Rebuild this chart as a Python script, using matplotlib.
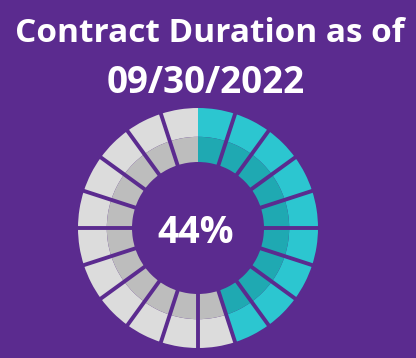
import numpy as np
import matplotlib
matplotlib.use("Agg")
import matplotlib.pyplot as plt

# Chart data
TITLE = "Contract Duration as of"
DATE = "09/30/2022"
PERCENT = 44
N_SEGMENTS = 20
FILLED = 9  # segments shown in teal

BG = "#5b2b8f"
TEAL_OUT, TEAL_IN = "#2cc6d0", "#1fa9b2"
GREY_OUT, GREY_IN = "#dcdcdc", "#bdbdbd"
FONT = "Open Sans"

fig = plt.figure(figsize=(4.16, 3.58), dpi=100)
fig.patch.set_facecolor(BG)

fig.text(210 / 416, 1 - 42 / 358, TITLE, ha="center", va="baseline",
         color="white", fontsize=24, fontweight="bold", family=FONT)
fig.text(206 / 416, 1 - 93 / 358, DATE, ha="center", va="baseline",
         color="white", fontsize=26.5, fontweight="bold", family=FONT)

# donut axes: centre (198, 228) px, radius 120 px
ax = fig.add_axes([78 / 416, 10 / 358, 240 / 416, 240 / 358])
ax.set_facecolor(BG)

sizes = [1] * N_SEGMENTS
outer_cols = [TEAL_OUT if i < FILLED else GREY_OUT for i in range(N_SEGMENTS)]
inner_cols = [TEAL_IN if i < FILLED else GREY_IN for i in range(N_SEGMENTS)]

r_out, r_mid, r_in = 1.0, 0.76, 0.55
ax.pie(sizes, radius=r_out, colors=outer_cols, startangle=90, counterclock=False,
       wedgeprops=dict(width=r_out - r_mid, linewidth=0))
ax.pie(sizes, radius=r_mid, colors=inner_cols, startangle=90, counterclock=False,
       wedgeprops=dict(width=r_mid - r_in, linewidth=0))

# purple gaps between segments (none at 12 o'clock)
for k in range(1, N_SEGMENTS):
    a = np.deg2rad(90 - 360 / N_SEGMENTS * k)
    ax.plot([r_in * 0.98 * np.cos(a), 1.02 * np.cos(a)],
            [r_in * 0.98 * np.sin(a), 1.02 * np.sin(a)],
            color=BG, lw=2.8, solid_capstyle="butt")

ax.text(-0.02, -0.125, f"{PERCENT}%", ha="center", va="baseline", color="white",
        fontsize=27, fontweight="bold", family=FONT)

ax.set_xlim(-1, 1)
ax.set_ylim(-1, 1)
ax.set_aspect("equal")
ax.axis("off")

fig.savefig("out.png", dpi=100, facecolor=BG)
